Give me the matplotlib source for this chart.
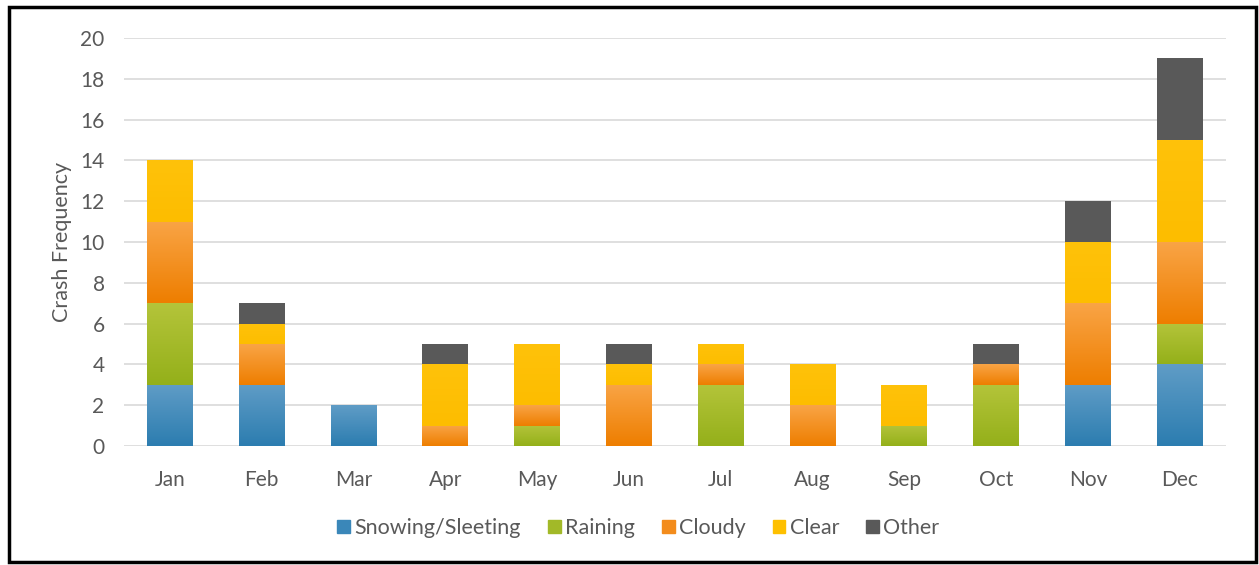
import numpy as np
import matplotlib
matplotlib.use("Agg")
import matplotlib.pyplot as plt
from matplotlib.colors import LinearSegmentedColormap
from matplotlib.patches import Rectangle

plt.rcParams['font.family'] = ['Lato', 'DejaVu Sans']

months = ['Jan', 'Feb', 'Mar', 'Apr', 'May', 'Jun', 'Jul', 'Aug', 'Sep', 'Oct', 'Nov', 'Dec']
snowing = [3, 3, 2, 0, 0, 0, 0, 0, 0, 0, 3, 4]
raining = [4, 0, 0, 0, 1, 0, 3, 0, 1, 3, 0, 2]
cloudy = [4, 2, 0, 1, 1, 3, 1, 2, 0, 1, 4, 4]
clear = [3, 1, 0, 3, 3, 1, 1, 2, 2, 0, 3, 5]
other = [0, 1, 0, 1, 0, 1, 0, 0, 0, 1, 2, 4]

series = [('Snowing/Sleeting', snowing), ('Raining', raining), ('Cloudy', cloudy),
          ('Clear', clear), ('Other', other)]
# top colour, bottom colour (Excel-ish gradient)
grads = [('#5f9cc6', '#2c7db0'), ('#b4c43a', '#94b01a'), ('#f9a445', '#ee7e00'),
         ('#ffc20a', '#fdbd00'), ('#5a5a5a', '#595959')]
solid = ['#3a87b9', '#a2b928', '#f38c1c', '#fec000', '#595959']

fig = plt.figure(figsize=(12.59, 5.65), dpi=100)
ax = fig.add_axes([0.0985, 0.2106, 0.875, 0.7221])

x = np.arange(len(months))
bottom = np.zeros(len(months))
for (name, vals), (ctop, cbot), c in zip(series, grads, solid):
    vals = np.array(vals, dtype=float)
    bars = ax.bar(x, vals, width=0.5, bottom=bottom, color=c, label=name, zorder=2)
    cmap = LinearSegmentedColormap.from_list(name, [cbot, ctop])
    for b, v in zip(bars, vals):
        if v == 0:
            continue
        b.set_facecolor('none')
        x0, y0 = b.get_x(), b.get_y()
        im = ax.imshow(np.linspace(0, 1, 64).reshape(-1, 1), cmap=cmap, origin='lower',
                       aspect='auto', extent=[x0, x0 + b.get_width(), y0, y0 + v], zorder=2)
        im.set_clip_path(b)
    bottom += vals

ax.set_xlim(-0.5, 11.5)
ax.set_ylim(0, 20)
ax.set_yticks(np.arange(0, 21, 2))
ax.set_xticks(x)
ax.set_xticklabels(months)
ax.grid(axis='y', color='#d9d9d9', linewidth=1.2, zorder=0)
ax.set_axisbelow(True)
for s in ax.spines.values():
    s.set_visible(False)
ax.tick_params(length=0, labelsize=15, colors='#595959', pad=17)
ax.tick_params(axis='y', pad=14)
ax.set_ylabel('Crash Frequency', fontsize=15.5, color='#595959', labelpad=6)

handles = [Rectangle((0, 0), 1, 1, color=c) for c in solid]
fig.legend(handles, [s[0] for s in series], loc='center', bbox_to_anchor=(0.507, 0.0655),
           ncol=5, frameon=False, fontsize=15.5, labelcolor='#595959',
           handlelength=0.6, handleheight=0.6, handletextpad=0.2, columnspacing=1.25)

fig.patches.append(Rectangle((0.007, 0.006), 0.991, 0.982, transform=fig.transFigure,
                             fill=False, edgecolor='black', linewidth=2.5))

fig.savefig('out.png', dpi=100)
